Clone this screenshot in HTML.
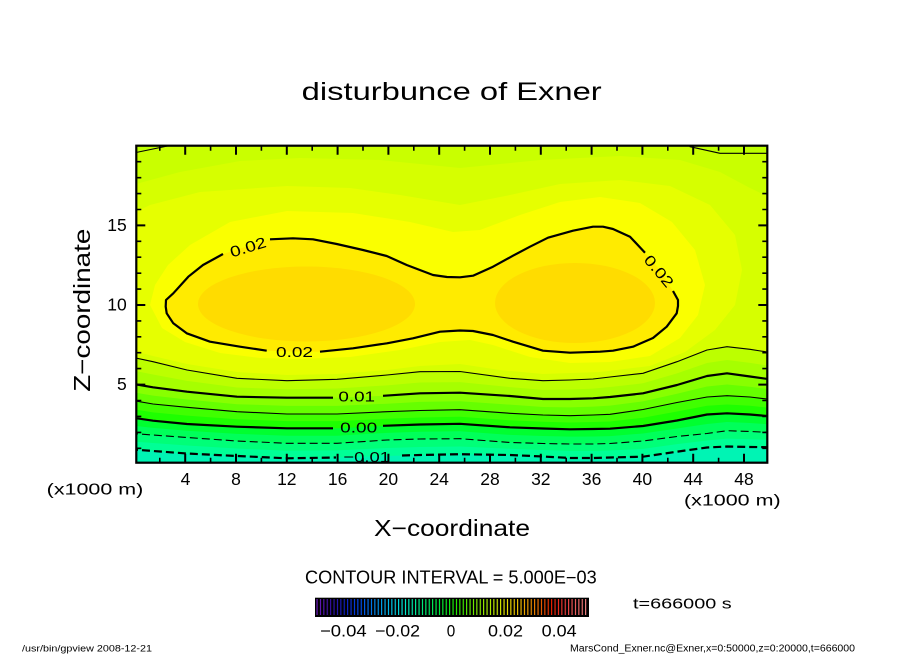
<!DOCTYPE html>
<html><head><meta charset="utf-8"><style>
html,body{margin:0;padding:0;background:#fff;}
svg{display:block;}
text{font-family:"Liberation Sans",sans-serif;fill:#000;}
</style></head><body>
<svg width="904" height="654" viewBox="0 0 904 654" xmlns="http://www.w3.org/2000/svg">
<defs>
<clipPath id="pc"><rect x="136.3" y="145.7" width="631" height="317"/></clipPath>
<linearGradient id="cb" x1="316.5" x2="587.5" y1="0" y2="0" gradientUnits="userSpaceOnUse">
<stop offset="0" stop-color="#7a1fd0"/><stop offset="0.05" stop-color="#3a10a8"/><stop offset="0.105" stop-color="#1020d0"/>
<stop offset="0.16" stop-color="#0050ff"/><stop offset="0.216" stop-color="#0090ff"/><stop offset="0.271" stop-color="#00d0ff"/>
<stop offset="0.327" stop-color="#00ffe0"/><stop offset="0.382" stop-color="#00ff90"/><stop offset="0.456" stop-color="#00ff40"/>
<stop offset="0.511" stop-color="#20ff00"/><stop offset="0.585" stop-color="#80ff00"/><stop offset="0.659" stop-color="#d0ff00"/>
<stop offset="0.707" stop-color="#ffee00"/><stop offset="0.758" stop-color="#ffc000"/><stop offset="0.814" stop-color="#ff8000"/>
<stop offset="0.869" stop-color="#ff2000"/><stop offset="0.917" stop-color="#ff4040"/><stop offset="1" stop-color="#ff9090"/>
</linearGradient>
<pattern id="st" x="316.5" y="0" width="3.4" height="30" patternUnits="userSpaceOnUse"><rect x="1.1" y="0" width="2.3" height="30" fill="#000"/></pattern>
</defs>
<rect width="904" height="654" fill="#fff"/>

<!-- Title -->
<text x="301.7" y="100" font-size="25" textLength="300" lengthAdjust="spacingAndGlyphs">disturbunce of Exner</text>

<g clip-path="url(#pc)">
<rect x="130" y="140" width="650" height="330" fill="#00f4b4"/>
<polygon fill="#00ff96" points="130,449.3 153,451 187,453.5 237,456 287,458.3 337,457.5 387,456 420,455 460,454.2 510,455 543,456.5 570,458 593,458 610,457.5 643,456.7 677,451.7 707,447.5 727,446.5 750,447 775,447.3 775,140 130,140"/>
<polygon fill="#00ff78" points="130,441.3 153,443 187,445.5 237,448.5 287,450.8 337,450.4 387,448 420,447 460,446.45 510,448.75 543,450 570,451 593,451 610,450.5 643,448.85 677,444.1 707,440.5 727,438.6 750,439.25 775,440 775,140 130,140"/>
<polygon fill="#00ff5a" points="130,433.3 153,435 187,437.5 237,441 287,443.3 337,443.3 387,440 420,439 460,438.7 510,442.5 543,443.5 570,444 593,444 610,443.5 643,441 677,436.5 707,433.5 727,430.7 750,431.5 775,432.7 775,140 130,140"/>
<polygon fill="#00ff30" points="130,425.3 153,427.85 187,430.75 237,433.85 287,435.8 337,435.8 387,432.85 420,431.75 460,431.25 510,434.9 543,436 570,436.65 593,436.5 610,436.1 643,433.5 677,428.5 707,424 727,422 750,423 775,424.7 775,140 130,140"/>
<polygon fill="#1eff00" points="130,417.3 153,420.7 187,424 237,426.7 287,428.3 337,428.3 387,425.7 420,424.5 460,423.8 510,427.3 543,428.5 570,429.3 593,429 610,428.7 643,426 677,420.5 707,414.5 727,413.3 750,414.5 775,416.7 775,140 130,140"/>
<polygon fill="#40ff00" points="130,408.65 153,412.35 187,415.65 237,419.2 287,421.15 337,421.15 387,418.7 420,417.5 460,416.75 510,420.3 543,421.75 570,422.5 593,422 610,421.5 643,417.75 677,411.5 707,405.75 727,404.5 750,405.75 775,408.35 775,140 130,140"/>
<polygon fill="#66ff00" points="130,400 153,404 187,407.3 237,411.7 287,414 337,414 387,411.7 420,410.5 460,409.7 510,413.3 543,415 570,415.7 593,415 610,414.3 643,409.5 677,402.5 707,397 727,395.7 750,397 775,400 775,140 130,140"/>
<polygon fill="#88ff00" points="130,391.65 153,395.65 187,399.5 237,404.2 287,405.85 337,405.85 387,403.7 420,401.9 460,401.2 510,404.65 543,407 570,407.35 593,406.65 610,405.65 643,401.4 677,393.75 707,386.5 727,384.5 750,386.75 775,390 775,140 130,140"/>
<polygon fill="#a6ff00" points="130,383.3 153,387.3 187,391.7 237,396.7 287,397.7 337,397.7 387,395.7 420,393.3 460,392.7 510,396 543,399 570,399 593,398.3 610,397 643,393.3 677,385 707,376 727,373.3 750,376.5 775,380 775,140 130,140"/>
<polygon fill="#bcff00" points="130,370 153,374.5 187,380.85 237,387.5 287,389.2 337,388.5 387,385.35 420,382.5 460,382.1 510,387.15 543,389.85 570,389.5 593,388.65 610,387 643,383.3 677,373.35 707,363 727,360 750,362.9 775,366.65 775,140 130,140"/>
<polygon fill="#d6ff00" points="130,356.7 153,361.7 187,370 237,378.3 287,380.7 337,379.3 387,375 420,371.7 460,371.5 510,378.3 543,380.7 570,380 593,379 610,377 643,373.3 677,361.7 707,350 727,346.7 750,349.3 775,353.3 775,140 130,140"/>
<!-- top strip -->
<polygon fill="#c9ff00" points="130,186 136,184 180,172 240,161 300,158 380,160 460,168 540,160 620,156 680,160 720,172 750,188 775,200 775,140 130,140"/>
<polygon fill="#bdff00" points="130,140 170,140 170,145.5 136,152.5 130,153.5"/>
<polygon fill="#bdff00" points="690,140 775,140 775,153.3 720,153.3 690,146.7"/>
<!-- blob E -->
<polygon fill="#e6ff00" points="130,215 150,205 200,192 287,186 350,188 400,195 460,205 510,195 560,184 620,180 670,186 710,205 735,235 742,270 735,305 715,330 685,352 650,366 600,372 543,374 500,370 460,364 420,366 387,370 337,374 287,375 237,372 187,364 153,356 130,350"/>
<!-- blob Y -->
<polygon fill="#faff00" points="150,305 155,285 168,265 190,245 230,222 287,211 353,213 410,222 453,232 480,230 520,215 560,202 600,197 640,203 672,222 695,250 705,285 698,315 680,338 650,356 610,362 570,363 530,357 493,345 470,340 440,342 400,350 350,357 300,359 260,358 220,353 185,342 162,328"/>
<!-- 0.02 region -->
<polygon fill="#ffeb00" points="270,239.3 293,238.3 313,239.3 336.7,244 363,250 386.7,256 406.7,265 433,275 447,277 460,277.3 473,275.7 493,266.7 513,255.7 530,246.7 548,237.7 573,230.7 593,226.7 603,226.7 613,229 630,236.7 645,252.7 660,270 673,291 678,300 678,306 676.7,313.3 666.7,326.7 653,338 633,346.7 613,350.7 600,351.7 570,352.7 543,350.7 513,341.7 493,335 473,331 460,330.5 440,331.7 413,338.3 387,343.3 353,348.3 320,351.7 293,351.5 266.7,350.7 240,346.7 210,341.7 186.7,333.3 173.3,323.3 166.7,313.3 165.7,306.7 166,300 173.3,293.3 188.3,276.7 203,265 220,255 245,247"/>
<ellipse cx="306.5" cy="304" rx="108.5" ry="37.5" fill="#ffdc00"/>
<ellipse cx="575" cy="303" rx="80" ry="40" fill="#ffdc00"/>

<!-- contour lines -->
<g fill="none" stroke="#000" stroke-linejoin="round">
<polyline stroke-width="2.2" points="270,239.3 293,238.3 313,239.3 336.7,244 363,250 386.7,256 406.7,265 433,275 447,277 460,277.3 473,275.7 493,266.7 513,255.7 530,246.7 548,237.7 573,230.7 593,226.7 603,226.7 613,229 630,236.7 645,252.7"/>
<polyline stroke-width="2.2" points="673,291 678,300 678,306 676.7,313.3 666.7,326.7 653,338 633,346.7 613,350.7 600,351.7 570,352.7 543,350.7 513,341.7 493,335 473,331 460,330.5 440,331.7 413,338.3 387,343.3 353,348.3 320,351.7"/>
<polyline stroke-width="2.2" points="266.7,350.7 240,346.7 210,341.7 186.7,333.3 173.3,323.3 166.7,313.3 165.7,306.7 166,300 173.3,293.3 188.3,276.7 203,265 223,254"/>
<polyline stroke-width="1.1" points="130,356.7 153,361.7 187,370 237,378.3 287,380.7 337,379.3 387,375 420,371.7 460,371.5 510,378.3 543,380.7 570,380 593,379 610,377 643,373.3 677,361.7 707,350 727,346.7 750,349.3 775,353.3"/>
<polyline stroke-width="1.1" points="130,153.6 136,152.5 170,145.5 172,140"/>
<polyline stroke-width="1.1" points="688,140 690,146.7 720,153.3 775,153.3"/>
<polyline stroke-width="2.2" points="130,383.3 153,387.3 187,391.7 237,396.7 287,397.7 333,397.7"/>
<polyline stroke-width="2.2" points="383,395.8 420,393.3 460,392.7 510,396 543,399 570,399 593,398.3 610,397 643,393.3 677,385 707,376 727,373.3 750,376.5 775,380"/>
<polyline stroke-width="1.1" points="130,400 153,404 187,407.3 237,411.7 287,414 337,414 387,411.7 420,410.5 460,409.7 510,413.3 543,415 570,415.7 593,415 610,414.3 643,409.5 677,402.5 707,397 727,395.7 750,397 775,400"/>
<polyline stroke-width="2.2" points="130,417.3 153,420.7 187,424 237,426.7 287,428.3 333,428.3"/>
<polyline stroke-width="2.2" points="383,425.8 420,424.5 460,423.8 510,427.3 543,428.5 570,429.3 593,429 610,428.7 643,426 677,420.5 707,414.5 727,413.3 750,414.5 775,416.7"/>
<polyline stroke-width="1.1" stroke-dasharray="8 4" points="130,433.3 153,435 187,437.5 237,441 287,443.3 337,443.3 387,440 420,439 460,438.7 510,442.5 543,443.5 570,444 593,444 610,443.5 643,441 677,436.5 707,433.5 727,430.7 750,431.5 775,432.7"/>
<polyline stroke-width="2.2" stroke-dasharray="8 4" points="130,449.3 153,451 187,453.5 237,456 287,458.3 336,457.5"/>
<polyline stroke-width="2.2" stroke-dasharray="8 4" points="402,455.5 420,455 460,454.2 510,455 543,456.5 570,458 593,458 610,457.5 643,456.7 677,451.7 707,447.5 727,446.5 750,447 775,447.3"/>
</g>
<!-- contour labels -->
<text x="0" y="0" font-size="15" text-anchor="middle" textLength="37" lengthAdjust="spacingAndGlyphs" transform="translate(248,247) rotate(-17) translate(0,5.3)">0.02</text>
<text x="0" y="0" font-size="15" text-anchor="middle" textLength="37" lengthAdjust="spacingAndGlyphs" transform="translate(659,271) rotate(50) translate(0,5.3)">0.02</text>
<text x="294.5" y="357" font-size="15" text-anchor="middle" textLength="37" lengthAdjust="spacingAndGlyphs">0.02</text>
<text x="356.7" y="401.6" font-size="15" text-anchor="middle" textLength="36.7" lengthAdjust="spacingAndGlyphs">0.01</text>
<text x="358.7" y="432.6" font-size="15" text-anchor="middle" textLength="37" lengthAdjust="spacingAndGlyphs">0.00</text>
<text x="366.7" y="461.8" font-size="15" text-anchor="middle" textLength="46.7" lengthAdjust="spacingAndGlyphs">−0.01</text>
</g>

<!-- frame -->
<rect x="136.3" y="145.7" width="631" height="317" fill="none" stroke="#000" stroke-width="2.2"/>
<!-- ticks -->
<g stroke="#000" stroke-width="2">
<path d="M185.2,462.8v-9M236,462.8v-9M286.8,462.8v-9M337.6,462.8v-9M388.4,462.8v-9M439.2,462.8v-9M490,462.8v-9M540.8,462.8v-9M591.6,462.8v-9M642.4,462.8v-9M693.2,462.8v-9M744,462.8v-9"/>
<path d="M185.2,145.7v9M236,145.7v9M286.8,145.7v9M337.6,145.7v9M388.4,145.7v9M439.2,145.7v9M490,145.7v9M540.8,145.7v9M591.6,145.7v9M642.4,145.7v9M693.2,145.7v9M744,145.7v9"/>
<path d="M136.3,384.6h9M136.3,305h9M136.3,225.4h9M767.3,384.6h-9M767.3,305h-9M767.3,225.4h-9"/>
</g>
<g stroke="#000" stroke-width="1.6">
<path d="M159.8,462.8v-5M210.6,462.8v-5M261.4,462.8v-5M312.2,462.8v-5M363,462.8v-5M413.8,462.8v-5M464.6,462.8v-5M515.4,462.8v-5M566.2,462.8v-5M617,462.8v-5M667.8,462.8v-5M718.6,462.8v-5"/>
<path d="M159.8,145.7v5M210.6,145.7v5M261.4,145.7v5M312.2,145.7v5M363,145.7v5M413.8,145.7v5M464.6,145.7v5M515.4,145.7v5M566.2,145.7v5M617,145.7v5M667.8,145.7v5M718.6,145.7v5"/>
<path d="M136.3,448.3h5M136.3,432.4h5M136.3,416.4h5M136.3,400.5h5M136.3,368.6h5M136.3,352.7h5M136.3,336.8h5M136.3,320.9h5M136.3,289.1h5M136.3,273.2h5M136.3,257.2h5M136.3,241.3h5M136.3,209.5h5M136.3,193.6h5M136.3,177.7h5M136.3,161.7h5"/>
<path d="M767.3,448.3h-5M767.3,432.4h-5M767.3,416.4h-5M767.3,400.5h-5M767.3,368.6h-5M767.3,352.7h-5M767.3,336.8h-5M767.3,320.9h-5M767.3,289.1h-5M767.3,273.2h-5M767.3,257.2h-5M767.3,241.3h-5M767.3,209.5h-5M767.3,193.6h-5M767.3,177.7h-5M767.3,161.7h-5"/>
</g>

<!-- tick labels -->
<g font-size="17.5" text-anchor="middle">
<text x="185.5" y="485">4</text><text x="236" y="485">8</text><text x="286.8" y="485">12</text>
<text x="337.6" y="485">16</text><text x="388.4" y="485">20</text><text x="439.2" y="485">24</text>
<text x="490" y="485">28</text><text x="540.8" y="485">32</text><text x="591.6" y="485">36</text>
<text x="642.4" y="485">40</text><text x="693.2" y="485">44</text><text x="744" y="485">48</text>
</g>
<g font-size="17.5" text-anchor="end">
<text x="126.7" y="231.2">15</text><text x="126.7" y="310.7">10</text><text x="126.7" y="390.2">5</text>
</g>
<text x="46.7" y="494.3" font-size="15.5" textLength="96.6" lengthAdjust="spacingAndGlyphs">(x1000 m)</text>
<text x="684" y="505.5" font-size="15.5" textLength="96.6" lengthAdjust="spacingAndGlyphs">(x1000 m)</text>
<text x="374" y="536" font-size="23" textLength="156" lengthAdjust="spacingAndGlyphs">X−coordinate</text>
<text x="0" y="0" font-size="23" textLength="163" lengthAdjust="spacingAndGlyphs" transform="translate(90,391.7) rotate(-90)">Z−coordinate</text>

<!-- contour interval + colorbar -->
<text x="305" y="583.3" font-size="18" textLength="291.7" lengthAdjust="spacingAndGlyphs">CONTOUR INTERVAL = 5.000E−03</text>
<rect x="315" y="597.7" width="274" height="19.3" fill="#000"/>
<rect x="316.5" y="599" width="271" height="16" fill="url(#cb)"/>
<rect x="316.5" y="599" width="271" height="16" fill="url(#st)"/>
<g font-size="16.5">
<text x="320" y="636.7" textLength="46.7" lengthAdjust="spacingAndGlyphs">−0.04</text>
<text x="375" y="636.7" textLength="45" lengthAdjust="spacingAndGlyphs">−0.02</text>
<text x="446.7" y="636.7" textLength="8.5" lengthAdjust="spacingAndGlyphs">0</text>
<text x="488" y="636.7" textLength="35" lengthAdjust="spacingAndGlyphs">0.02</text>
<text x="541.7" y="636.7" textLength="35" lengthAdjust="spacingAndGlyphs">0.04</text>
</g>
<text x="633" y="608.3" font-size="15" textLength="98.7" lengthAdjust="spacingAndGlyphs">t=666000 s</text>

<!-- footers -->
<text x="22" y="651.5" font-size="9.5" textLength="130" lengthAdjust="spacingAndGlyphs">/usr/bin/gpview   2008-12-21</text>
<text x="570" y="651.5" font-size="10" textLength="285" lengthAdjust="spacingAndGlyphs">MarsCond_Exner.nc@Exner,x=0:50000,z=0:20000,t=666000</text>
</svg>
</body></html>
